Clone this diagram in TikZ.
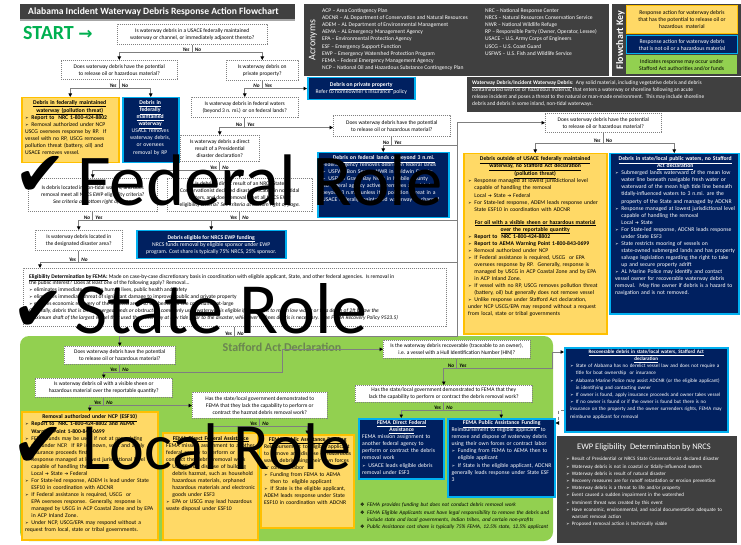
\documentclass[tikz,border=0pt]{standalone}
\usepackage{fontspec}
\setmainfont{Carlito}
\newfontfamily\dejavu{DejaVu Sans}
\usetikzlibrary{arrows.meta,calc}
\hyphenpenalty=10000
\exhyphenpenalty=10000
\definecolor{dgray}{HTML}{404040}
\definecolor{yel}{HTML}{FFD966}
\definecolor{yelb}{HTML}{FFC000}
\definecolor{navy}{HTML}{002060}
\definecolor{lblue}{HTML}{00B0F0}
\definecolor{grn}{HTML}{92D050}
\definecolor{startg}{HTML}{00B050}
\definecolor{cgray}{HTML}{7F7F7F}
\definecolor{qgray}{HTML}{808080}
\definecolor{stafg}{HTML}{6A8550}
\newcommand\fs{\fontsize{5.7}{7.05}\selectfont}
\newcommand\fsq{\fontsize{5.5}{7}\selectfont}
\newcommand\fsm{\fontsize{5.1}{7.2}\selectfont}
\newcommand\uline[1]{\underline{#1}}
\newcommand\bul{{\dejavu\fontsize{4.3}{5}\selectfont ➢}}
\newcommand\itm{\par\hangindent=1.1em\hangafter=1\noindent\makebox[1.1em][l]{\bul}}
\newcommand\itmx{\par\noindent\makebox[1.1em][l]{\bul}}
\newcommand\nbul{\par\hangindent=1.3em\hangafter=1\noindent\makebox[1.3em][l]{{\upshape\dejavu\fontsize{5}{5}\selectfont ❖}}}
\newcommand\tto{{\dejavu\fontsize{4.5}{5}\selectfont\ ➔\ }}
\newcommand\ttl[1]{{\centering\bfseries #1\par}}
\newcommand\chk{{\dejavu ✔}}
\newcommand\rbox[7]{%
 \pgfmathsetmacro\rbw{#5-(#3)}\pgfmathsetmacro\rbh{#6-(#4)}%
 \node[#1,anchor=north west,minimum width=\rbw pt,minimum height=\rbh pt] (#2) at (#3,#4) {#7};}
\newcommand\yn[3]{%
 \node[lab,anchor=south east] (#1-a) at ($(#1)+(-2.5,-0.8)$) {#2};
 \node[lab,anchor=south west] (#1-b) at ($(#1)+(2.5,-0.8)$) {#3};}
\begin{document}
\begin{tikzpicture}[x=1pt,y=-1pt,
 q/.style={draw=qgray, dash pattern=on 1.2pt off 0.8pt, line width=0.55pt, fill=white, inner sep=1pt, align=center, font=\fsq},
 ybox/.style={draw=yelb, fill=yel, line width=1.5pt},
 bbox/.style={draw=lblue, fill=navy, line width=1.5pt},
 conn/.style={draw=cgray, line width=0.8pt},
 arr/.style={conn, -{Triangle[length=3.5pt,width=3.5pt,color=black]}},
 lab/.style={font=\fontsize{5.3}{6}\selectfont\bfseries\itshape, inner sep=0},
 txt/.style={anchor=north west, inner sep=0, align=left, font=\fs},
 role/.style={anchor=base west, inner sep=0, text=black}]
\useasboundingbox (0,0) rectangle (741,545);
\fill[white] (0,0) rectangle (741,545);
% green Stafford region
\fill[grn, rounded corners=9pt] (20,336) rectangle (553,541);
\node[font=\fontsize{12}{12}\selectfont\bfseries, text=stafg] (staf) at (282,347) {Stafford Act Declaration};
% header
\fill[dgray] (20,4) rectangle (295,19);
\fill[black!35] (20,19) rectangle (295,21.5);
\node[anchor=west, inner sep=0, text=white, font=\fontsize{9.6}{10}\selectfont\bfseries] (title) at (28,11.8) {Alabama Incident Waterway Debris Response Action Flowchart};
\node[anchor=base west, inner sep=0, text=startg, font=\fontsize{20}{20}\selectfont\bfseries] (start) at (23,40) {START {\dejavu\fontsize{17}{17}\selectfont →}};
% acronyms
\fill[dgray] (304,4) rectangle (609,76);
\node[rotate=90, text=white, font=\fontsize{10}{10}\selectfont] (acro) at (313,40) {Acronyms};
\node[txt, text=white, font=\fontsize{5.6}{7.1}\selectfont] (acl) at (322,8.5) {ACP – Area Contingency Plan\\ADCNR – AL Department of Conservation and Natural Resources\\ADEM – AL Department of Environmental Management\\AEMA – AL Emergency Management Agency\\EPA – Environmental Protection Agency\\ESF – Emergency Support Function\\EWP – Emergency Watershed Protection Program\\FEMA – Federal Emergency Management Agency\\NCP – National Oil and Hazardous Substance Contingency Plan};
\node[txt, text=white, font=\fontsize{5.6}{7.1}\selectfont] (acr) at (485,8.5) {NRC – National Response Center\\NRCS – Natural Resources Conservation Service\\NWR – National Wildlife Refuge\\RP – Responsible Party (Owner, Operator, Lessee)\\USACE – U.S. Army Corps of Engineers\\USCG – U.S. Coast Guard\\USFWS – U.S. Fish and Wildlife Service};
% key
\fill[dgray] (612,4) rectangle (741,76);
\node[rotate=90, text=white, font=\fontsize{10}{10}\selectfont\bfseries] (fkey) at (620.5,40) {Flowchart Key};
\rbox{ybox, line width=1pt, align=center, font=\fs}{k1}{626}{5}{737}{33}{Response action for waterway debris\\that has the potential to release oil or\\hazardous\ \ material}
\rbox{bbox, line width=1.2pt, align=center, font=\fs, text=white}{k2}{626}{35}{737}{53}{Response action for waterway debris\\that is not oil or a hazardous material}
\rbox{fill=grn, align=center, font=\fs}{k3}{626}{55}{737}{74}{Indicates response may occur under\\Stafford Act authorities and/or funds}
% definition
\fill[dgray] (467,77) rectangle (741,112);
\node[txt, text=white, font=\fontsize{5.45}{7.1}\selectfont] (def) at (472,80.5) {\textbf{\uline{Waterway Debris/Incident Waterway Debris}}:\ \ Any solid material, including vegetative debris and debris\\contaminated with oil or hazardous material, that enters a waterway or shoreline following an acute\\release incident and poses a threat to the natural or man-made environment.\ \ This may include shoreline\\debris and debris in some inland, non-tidal waterways.};
% questions
\rbox{q}{q1}{117}{24}{267}{44}{Is waterway debris in a USACE federally maintained\\waterway or channel, or immediately adjacent thereto?}
\rbox{q}{q2}{61}{60}{177}{79}{Does waterway debris have the potential\\to release oil or hazardous material?}
\rbox{q}{q3}{226}{60}{298}{80}{Is waterway debris on\\private property?}
\rbox{q}{q4}{191}{97}{298}{117}{Is waterway debris in federal waters\\(beyond 3 n. mi.) or on federal lands?}
\rbox{q}{q5}{180}{135}{259}{161}{Is waterway debris a direct\\result of a Presidential\\disaster declaration?}
\rbox{q}{q6}{333}{115}{450}{136}{Does waterway debris have the potential\\to release oil or hazardous material?}
\rbox{q}{q7}{28}{178}{157}{211}{Is debris located in non-tidal waters, and does\\removal meet all NRCS EWP eligibility criteria?\\\textit{See criteria at bottom right of page.}}
\rbox{q}{q8}{167}{178}{312}{211}{Is debris a direct result of an NRCS State\\Conservationist declared disaster, located in non-tidal\\waters, and does removal meet all NRCS EWP\\eligibility criteria?\ \textit{See criteria at bottom right of page.}}
\rbox{q}{q9}{35}{230}{122}{250}{Is waterway debris located in\\the designated disaster area?}
\rbox{q}{q15}{545}{113}{661}{132}{Does waterway debris have the potential\\to release oil or hazardous material?}
\rbox{q}{fema}{23}{268}{446}{326}{}
\node[txt, font=\fontsize{5.5}{6.85}\selectfont] (femat) at (29,274) {\textbf{\uline{Eligibility Determination by FEMA:}}\ Made on case-by-case discretionary basis in coordination with eligible applicant, State, and other federal agencies.\ \ Is removal in\\the public interest? Does at least one of the following apply? Removal…\\\bul\ eliminates immediate threat to human lives, public health and safety\\\bul\ eliminates immediate threat of significant damage to improved public and private property\\\bul\ ensures economic recovery of the affected areas to the benefit of the community-at-large\\\textit{Generally, debris that is on submerged lands or obstructs a commonly used waterway is eligible if removal is to mean low water or to a depth of 2ft below the}\\\textit{maximum draft of the largest vessel that used the waterway at low tide prior to the disaster, whichever defines debris is necessary. (See FEMA Recovery Policy 9523.5)}};
\rbox{q}{q10}{64}{346}{175}{364}{Does waterway debris have the potential\\to release oil or hazardous material?}
\rbox{q}{q12}{35}{378}{172}{397}{Is waterway debris oil with a visible sheen or\\hazardous material over the reportable quantity?}
\rbox{q}{q13}{192}{392}{327}{418}{Has the state/local government demonstrated to\\FEMA that they lack the capability to perform or\\contract the hazmat debris removal work?}
\rbox{q}{hin}{383}{340}{530}{358}{Is the waterway debris recoverable (traceable to an owner),\\i.e. a vessel with a Hull Identification Number (HIN)?}
\rbox{q}{q14}{355}{385}{532}{402}{Has the state/local government demonstrated to FEMA that they\\lack the capability to perform or contract the debris removal work?}
% upper response boxes
\rbox{ybox}{y1}{21}{97}{118}{162}{}
\node[txt, text width=89pt] (y1t) at (25,100) {\ttl{\uline{Debris in federally maintained}\\\uline{waterway (pollution threat)}}\itmx\textbf{Report to\ \ NRC 1-800-424-8802}\itmx Removal authorized under NCP\newline USCG oversees response by RP.\ \ If vessel with no RP, USCG removes pollution threat (battery, oil) and USACE removes vessel.};
\rbox{bbox}{b1}{122}{97}{178}{162}{}
\node[txt, text width=52pt, text=white, align=center] (b1t) at (124,100.5) {\textbf{\uline{Debris in}}\\\textbf{\uline{federally}}\\\textbf{\uline{maintained}}\\\textbf{\uline{waterway}}\\USACE removes\\waterway debris,\\or oversees\\removal by RP};
\rbox{bbox, align=center, text=white, font=\fs}{priv}{307}{77}{414}{99}{\textbf{\uline{Debris on private property}}\\Refer to homeowner's insurance\ \ policy}
\rbox{bbox}{fed}{317}{152}{448}{217}{}
\node[txt, text width=123pt, text=white] (fedt) at (322,155.5) {\ttl{\uline{Debris on federal lands or beyond 3 n.mi.}}Federal Agency removes debris on federal lands\itm USFWS Bon Secour NWR in Baldwin County\itm USFWS Grand Bay NWR in Mobile County\par No federal agency actively removes any debris beyond 3 n.mi. unless it is pollution threat in a USACE federally maintained waterway or channel};
\rbox{bbox, align=center, text=white, font=\fs}{nrcs}{136}{230}{285}{258}{\textbf{\uline{Debris eligible for NRCS EWP funding}}\\NRCS funds removal by eligible sponsor under EWP\\program. Cost share is typically 75\% NRCS, 25\% sponsor.}
\rbox{ybox}{y2}{463}{153}{606}{333}{}
\node[txt, text width=134pt] (y2t) at (468,156.5) {\ttl{\uline{Debris outside of USACE federally maintained}\\\uline{waterway, no Stafford Act declaration}\\\uline{(pollution threat)}}\itm Response managed at lowest jurisdictional level capable of handling the removal\newline Local\tto State\tto Federal\itm For State-led response, ADEM leads response under State ESF10 in coordination with ADCNR\par\vspace{6pt}\ttl{\uline{For oil with a visible sheen or hazardous material}\\\uline{over the reportable quantity}}\itm\textbf{Report to\ \ NRC 1-800-424-8802}\itm\textbf{Report to AEMA Warning Point 1-800-843-0699}\itm Removal authorized under NCP\itm If Federal assistance is required, USCG\ \ or EPA oversees response by RP.\ \ Generally, response is managed by USCG in ACP Coastal Zone and by EPA in ACP Inland Zone.\itm If vessel with no RP, USCG removes pollution threat (battery, oil) but generally does not remove vessel\itm Unlike response under Stafford Act declaration, under NCP USCG/EPA may respond without a request from local, state or tribal governments};
\rbox{bbox}{b2}{609}{153}{738}{313}{}
\node[txt, text width=120pt, text=white] (b2t) at (615,156.5) {\ttl{\uline{Debris in state/local public waters, no Stafford}\\\uline{Act declaration}}\itm Submerged lands waterward of the mean low water line beneath navigable fresh water or waterward of the mean high tide line beneath tidally-influenced waters to 3 n.mi. are the property of the State and managed by ADCNR\itm Response managed at lowest jurisdictional level capable of handling the removal\newline Local\tto State\itm For State-led response, ADCNR leads response under State ESF3\itm State restricts mooring of vessels on state-owned submerged lands and has property salvage legislation regarding the right to take up and secure property adrift\itm AL Marine Police may identify and contact vessel owner for recoverable waterway debris removal.\ \ May fine owner if debris is a hazard to navigation and is not removed.};
% lower response boxes
\rbox{ybox}{ync}{21}{411}{157}{539}{}
\node[txt, text width=129pt] (yncT) at (25,414.5) {\ttl{\uline{Removal authorized under NCP (ESF10)}}\itm\textbf{Report to\ \ NRC 1-800-424-8802 and AEMA Warning Point 1-800-843-0699}\itm FEMA funds may be used if not at pre-existing site under NCP.\ \ If RP is known, seek and apply insurance proceeds first.\itm Response managed at lowest jurisdictional level capable of handling the removal:\newline Local\tto State\tto Federal\itm For State-led response, ADEM is lead under State ESF10 in coordination with ADCNR\itm If Federal assistance is required, USCG\ \ or EPA oversees response. Generally, response is managed by USCG in ACP Coastal Zone and by EPA in ACP Inland Zone.\itm Under NCP, USCG/EPA may respond without a request from local, state or tribal governments.};
\rbox{ybox}{ydir}{162}{432}{257}{539}{}
\node[txt, text width=89pt] (ydirT) at (166,436) {\ttl{\uline{FEMA Direct Federal Assistance}}FEMA mission assignment to another federal agency to perform or contract the debris removal work\itm USACE may dispose of building debris hazmat, such as household hazardous materials, orphaned hazardous materials and electronic goods under ESF3\itm EPA or USCG may lead hazardous waste disposal under ESF10};
\rbox{ybox}{ypa}{260}{434}{353}{527}{}
\node[txt, text width=87pt] (ypaT) at (264,437) {\ttl{\uline{FEMA Public Assistance Funding}}Reimbursement to eligible applicant\ \ to remove and dispose of hazardous waste debris using their own forces or contract labor\itm Funding from FEMA to AEMA then to\ \ eligible applicant\itm If State is the eligible applicant, ADEM leads response under State ESF10 in coordination with ADCNR};
\rbox{bbox}{bdir}{358}{418}{443}{478}{}
\node[txt, text width=79pt, text=white] (bdirT) at (362,420.5) {\ttl{\uline{FEMA Direct Federal}\\\uline{Assistance}}FEMA mission assignment to another federal agency to perform or contract the debris removal work\itm USACE leads eligible debris removal under ESF3};
\rbox{bbox}{bpa}{447}{418}{554}{496}{}
\node[txt, text width=100pt, text=white] (bpaT) at (451.5,420.5) {\ttl{\uline{FEMA Public Assistance Funding}}Reimbursement to eligible applicant\ \ to remove and dispose of waterway debris using their own forces or contract labor\itm Funding from FEMA to AEMA then to\ \ eligible applicant\itm If State is the eligible applicant, ADCNR generally leads response under State ESF 3};
\rbox{bbox}{rec}{564}{347}{727}{431}{}
\node[txt, text width=152pt, text=white, font=\fsm] (recT) at (570,349.5) {\ttl{\uline{Recoverable debris in state/local waters, Stafford Act}\\\uline{declaration}}\itm State of Alabama has no derelict vessel law and does not require a title for boat ownership\ \ or insurance\itm Alabama Marine Police may assist ADCNR (or the eligible applicant) in identifying and contacting owner\itm If owner is found, apply insurance proceeds and owner takes vessel\itm If no owner is found or if the owner is found but there is no insurance on the property and the owner surrenders rights, FEMA may reimburse applicant for removal};
\rbox{fill=dgray}{ewp}{557}{436}{737}{543}{}
\node[text=white, font=\fontsize{8.5}{9}\selectfont, inner sep=0] (ewpT) at (644,447) {EWP Eligibility\ \ Determination by NRCS};
\node[txt, text width=168pt, text=white, font=\fsm] (ewpL) at (566,453.5) {\itm Result of Presidential or NRCS State Conservationist declared disaster\itm Waterway debris is not in coastal or tidally-influenced waters\itm Waterway debris is result of natural disaster\itm Recovery measures are for runoff retardation or erosion prevention\itm Waterway debris is a threat to life and/or property\itm Event caused a sudden impairment in the watershed\itm Imminent threat was created by this event\itm Have economic, environmental, and social documentation adequate to warrant removal action\itm Proposed removal action is technically viable};
\node[txt, text width=192pt, font=\fontsize{5.4}{7.2}\selectfont\itshape] (notes) at (360,499.5) {\nbul FEMA provides funding but does not conduct debris removal work\nbul FEMA Eligible Applicants must have legal responsibility to remove the debris and include state and local governments, Indian tribes, and certain non-profits\nbul Public Assistance cost share is typically 75\% FEMA, 12.5\% state, 12.5\% applicant};
% connectors
\coordinate (s1) at ($(q1.south)+(0,8)$);
\draw[conn] (q1.south) -- (s1);
\draw[arr] (s1) -| (q2.north);
\draw[arr] (s1) -| (q3.north);
\yn{s1}{Yes}{No}
\coordinate (s2) at ($(q2.south)+(0,9)$);
\draw[conn] (q2.south) -- (s2);
\draw[arr] (s2) -| (y1.north);
\draw[arr] (s2) -| (b1.north);
\yn{s2}{Yes}{No}
\coordinate (s3) at ($(q3.south)+(0,8)$);
\draw[conn] (q3.south) -- (s3);
\draw[arr] (s3) -| (q4.north);
\draw[arr] (s3) -- (s3 -| priv.west);
\yn{s3}{No}{Yes}
\coordinate (s4) at ($(q4.south)+(0,10)$);
\draw[conn] (q4.south) -- (s4);
\draw[arr] (s4) -| (q5.north);
\draw[arr] (s4) -- (s4 -| q6.west);
\yn{s4}{No}{Yes}
\coordinate (s5) at ($(q5.south)+(0,9)$);
\draw[conn] (q5.south) -- (s5);
\draw[arr] (s5) -| (q7.north);
\draw[arr] (s5) -| (q8.north);
\yn{s5}{Yes}{No}
\coordinate (s7) at ($(q7.south)+(0,9)$);
\draw[conn] (q7.south) -- (s7);
\draw[arr] (s7) -| (q9.north);
\draw[arr] (s7) -| (nrcs.north);
\yn{s7}{No}{Yes}
\coordinate (vt) at ($(q15.west)+(-88,0)$);
\coordinate (s8) at ($(q8.south)+(0,9)$);
\draw[conn] (q8.south) -- (s8);
\draw[conn] (s8) -- (s8 -| nrcs.north);
\draw[conn] (s8) -- (s8 -| vt);
\yn{s8}{Yes}{No}
\coordinate (s9) at ($(q9.south)+(0,12)$);
\coordinate (fin) at ($(fema.north west)+(17,0)$);
\draw[conn] (q9.south) -- (s9);
\draw[arr] (s9) -| (fin);
\draw[conn] (s9) -- (s9 -| vt);
\yn{s9}{Yes}{No}
\coordinate (s6) at ($(q6.south)+(0,9)$);
\draw[conn] (q6.south) -- (s6);
\draw[arr] (s6) -| (fed.north);
\draw[conn] (s6) -- (s6 -| vt);
\yn{s6}{No}{Yes}
\coordinate (s15) at ($(q15.south)+(0,11)$);
\draw[conn] (q15.south) -- (s15);
\draw[arr] (s15) -| (y2.north);
\draw[arr] (s15) -| (b2.north);
\yn{s15}{Yes}{No}
\coordinate (sf) at ($(fema.south)+(0,10)$);
\draw[conn] (fema.south) -- (sf);
\draw[arr] (sf) -| (q10.north);
\draw[conn] (sf) -- (sf -| vt) -- (vt);
\draw[arr] (vt) -- (q15.west);
\yn{sf}{Yes}{No}
\coordinate (hk) at ($(hin.west)+(-101,0)$);
\coordinate (s10) at ($(q10.south)+(0,8)$);
\draw[conn] (q10.south) -- (s10);
\draw[arr] (s10) -| (q12.north);
\draw[conn] (s10) -| (hk);
\draw[arr] (hk) -- (hin.west);
\yn{s10}{Yes}{No}
\coordinate (s12) at ($(q12.south)+(0,8)$);
\draw[conn] (q12.south) -- (s12);
\draw[arr] (s12) -| (ync.north);
\draw[arr] (s12) -- (s12 -| q13.west);
\yn{s12}{Yes}{No}
\coordinate (s13) at ($(q13.south)+(0,8)$);
\draw[conn] (q13.south) -- (s13);
\draw[arr] (s13) -| (ydir.north);
\draw[arr] (s13) -| (ypa.north);
\yn{s13}{Yes}{No}
\coordinate (sh) at ($(hin.south)+(0,10)$);
\coordinate (recin) at ($(rec.north west)+(0,5)$);
\draw[conn] (hin.south) -- (sh);
\draw[arr] (sh) -| (q14.north);
\draw[arr] (sh) -| ($(recin)+(-12,0)$) -- (recin);
\yn{sh}{No}{Yes}
\coordinate (s14) at ($(q14.south)+(0,8)$);
\draw[conn] (q14.south) -- (s14);
\draw[arr] (s14) -| (bdir.north);
\draw[arr] (s14) -| (bpa.north);
\yn{s14}{Yes}{No}
\draw[conn, dashed, -{Triangle[length=3.5pt,width=3.5pt,color=black]}] ($(rec.south west)+(0,-22)$) -- ++(-6,0) |- ($(bpa.north east)+(0,5)$);
% role overlay
\node[role, font=\fontsize{62}{62}\selectfont] (chk1) at (14,196) {\chk};
\node[role, font=\fontsize{73}{73}\selectfont] (role1) at (77,206) {Federal Role};
\node[role, font=\fontsize{62}{62}\selectfont] (chk2) at (12,330) {\chk};
\node[role, font=\fontsize{72}{72}\selectfont] (role2) at (74,333) {State Role};
\node[role, font=\fontsize{62}{62}\selectfont] (chk3) at (12,466) {\chk};
\node[role, font=\fontsize{66}{66}\selectfont] (role3) at (82,469) {Local Role};
\end{tikzpicture}
\end{document}
